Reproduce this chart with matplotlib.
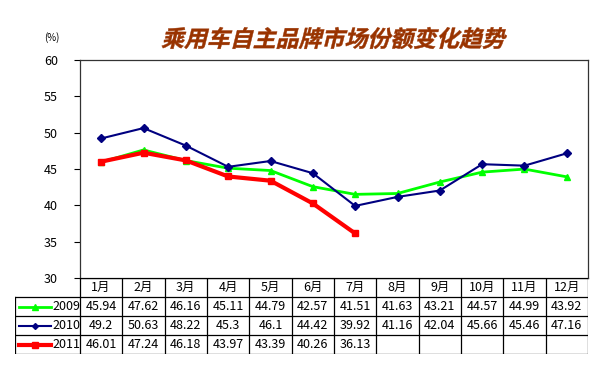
"""乘用车自主品牌市场份额变化趋势 line chart with data table."""

import matplotlib

matplotlib.use("Agg")
import matplotlib.pyplot as plt
from matplotlib.font_manager import FontProperties
from matplotlib.lines import Line2D
from matplotlib.patches import PathPatch
from matplotlib.textpath import TextPath
from matplotlib.transforms import Affine2D, IdentityTransform

plt.rcParams["font.family"] = ["Noto Sans CJK SC", "DejaVu Sans"]

MONTHS = ["1月", "2月", "3月", "4月", "5月", "6月", "7月", "8月", "9月", "10月", "11月", "12月"]
SERIES_NAMES = ["2009", "2010", "2011"]
SHARE_2009 = [45.94, 47.62, 46.16, 45.11, 44.79, 42.57, 41.51, 41.63, 43.21, 44.57, 44.99, 43.92]
SHARE_2010 = [49.2, 50.63, 48.22, 45.3, 46.1, 44.42, 39.92, 41.16, 42.04, 45.66, 45.46, 47.16]
SHARE_2011 = [46.01, 47.24, 46.18, 43.97, 43.39, 40.26, 36.13]
TABLE_TEXT = {
    "2009": ["45.94", "47.62", "46.16", "45.11", "44.79", "42.57", "41.51",
             "41.63", "43.21", "44.57", "44.99", "43.92"],
    "2010": ["49.2", "50.63", "48.22", "45.3", "46.1", "44.42", "39.92",
             "41.16", "42.04", "45.66", "45.46", "47.16"],
    "2011": ["46.01", "47.24", "46.18", "43.97", "43.39", "40.26", "36.13"],
}
Y_TICKS = [30, 35, 40, 45, 50, 55, 60]
TITLE = "乘用车自主品牌市场份额变化趋势"

STYLES = {
    "2009": dict(color="#00FF00", marker="^", lw=2.0, ms=5),
    "2010": dict(color="#000080", marker="D", lw=1.5, ms=4),
    "2011": dict(color="#FF0000", marker="s", lw=3.0, ms=5),
}

W, H = 600, 370
fig = plt.figure(figsize=(W / 100, H / 100), dpi=100)


def px_rect(x0, y0, x1, y1):
    return [x0 / W, 1 - y1 / H, (x1 - x0) / W, (y1 - y0) / H]


# main plot
ax = fig.add_axes(px_rect(80, 60, 588, 278))
xs = list(range(len(MONTHS)))
for name, vals in zip(SERIES_NAMES, [SHARE_2009, SHARE_2010, SHARE_2011]):
    st = STYLES[name]
    ax.plot(xs[: len(vals)], vals, color=st["color"], lw=st["lw"],
            marker=st["marker"], ms=st["ms"], mec=st["color"], mfc=st["color"])
ax.set_xlim(-0.5, len(MONTHS) - 0.5)
ax.set_ylim(30, 60)
ax.set_yticks(Y_TICKS)
ax.set_xticks([])
ax.tick_params(axis="y", direction="out", length=4, width=0.8, labelsize=9, pad=12)
for sp in ax.spines.values():
    sp.set_linewidth(0.9)
    sp.set_color("#333333")

fig.text(52 / W, 1 - 38 / H, "(%)", fontsize=7, ha="center", va="center")

# slanted title (CJK font has no italic, so shear the glyph outlines)
tp = TextPath((0, 0), TITLE, size=16.5,
              prop=FontProperties(family="Noto Sans CJK SC", weight="bold"))
bb = tp.get_extents()
cx, cy = (bb.x0 + bb.x1) / 2, (bb.y0 + bb.y1) / 2
title_tf = (Affine2D().translate(-cx, -cy).skew_deg(14, 0).scale(100 / 72)
            .translate(335, H - 38) + IdentityTransform())
fig.add_artist(PathPatch(tp, transform=title_tf, facecolor="#993300",
                         edgecolor="#993300", lw=0.3))

# data table under the plot
col_w = (588 - 80) / len(MONTHS)
left_w = (80 - 15) / col_w
tab = fig.add_axes(px_rect(15, 278, 588, 354))
tab.set_xlim(-0.5 - left_w, len(MONTHS) - 0.5)
tab.set_ylim(0, 4)
tab.axis("off")
row_tops = {"2009": 3, "2010": 2, "2011": 1}
line_kw = dict(color="black", lw=0.9)
x_left = -0.5 - left_w
x_right = len(MONTHS) - 0.5
tab.plot([-0.5, x_right], [4, 4], **line_kw)
for yb in [0, 1, 2, 3]:
    tab.plot([x_left, x_right], [yb, yb], **line_kw)
for k in range(len(MONTHS) + 1):
    tab.plot([k - 0.5, k - 0.5], [0, 4], **line_kw)
tab.plot([x_left, x_left], [0, 3], **line_kw)

for i, m in enumerate(MONTHS):
    tab.text(i, 3.5, m, ha="center", va="center", fontsize=9)
for name in SERIES_NAMES:
    yc = row_tops[name] - 0.5
    for i, t in enumerate(TABLE_TEXT[name]):
        tab.text(i, yc, t, ha="center", va="center", fontsize=9)
    st = STYLES[name]
    lx0 = x_left + 0.1
    lx1 = x_left + 0.85
    tab.add_line(Line2D([lx0, lx1], [yc, yc], color=st["color"], lw=st["lw"]))
    tab.add_line(Line2D([(lx0 + lx1) / 2], [yc], color=st["color"], marker=st["marker"],
                        ms=st["ms"] - 1, mec=st["color"], mfc=st["color"]))
    tab.text(x_left + 0.88, yc, name, ha="left", va="center", fontsize=9)

fig.savefig("out.png", dpi=100)
